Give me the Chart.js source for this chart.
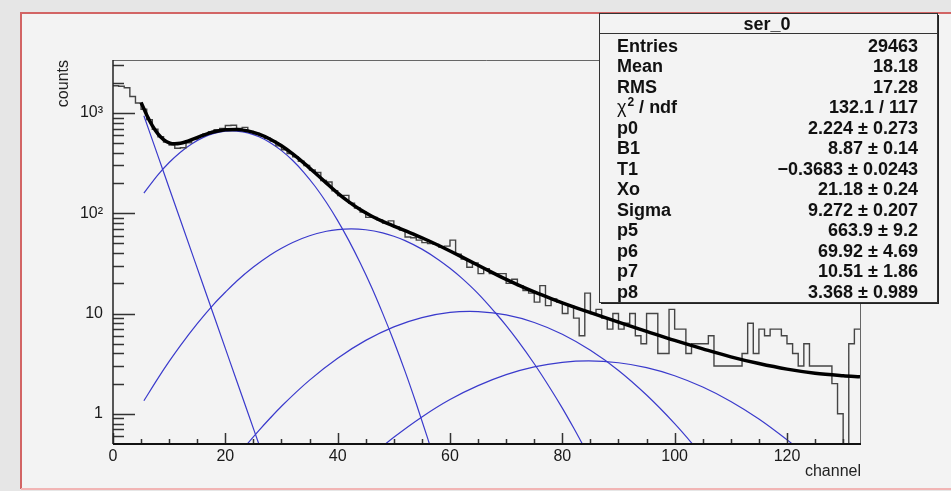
<!DOCTYPE html>
<html>
<head>
<meta charset="utf-8">
<script src="https://cdn.jsdelivr.net/npm/chart.js@4.4.1/dist/chart.umd.min.js"></script>
<style>
  html, body { margin: 0; padding: 0; background: #e6e6e6; }
  #wrap { width: 951px; height: 491px; }
</style>
</head>
<body>
<div id="wrap"><canvas id="fitChart" width="951" height="491"></canvas></div>
<script>
// histogram ser_0: one count per channel bin, bins 0..132
const counts = [
  1870, 1850, 1790, 1460, 1260, 1090, 860, 690, 580, 515,
  480, 445, 450, 505, 550, 585, 620, 650, 680, 700,
  750, 755, 700, 720, 655, 625, 595, 560, 525, 470,
  430, 395, 365, 330, 300, 270, 255, 212, 205, 168,
  150, 151, 126, 113, 103, 91, 91, 86, 80, 84,
  73, 68, 58, 57, 54, 51, 50, 49, 46, 47,
  54, 39, 35, 29, 32, 25, 28, 25, 25, 25,
  20, 22, 19, 17, 16, 13, 19, 12, 14, 13,
  10, 12, 9, 6, 16, 10, 11, 9, 7, 10,
  7, 8, 10, 6, 5, 10, 10, 4, 4, 11,
  7, 7, 4, 5, 5, 5, 6, 3, 3, 3,
  3, 3, 4, 8, 4, 7, 6, 7, 7, 6,
  5, 4, 3, 5, 3, 3, 3, 3, 2, 1,
  0, 5, 7
];
const xMin = 0;
const xMax = 133;
const yMin = 0.5;
const yMax = 3380;

// total fit (thick black)
const fitX = [5, 6, 7, 8, 9, 10, 11, 12, 13, 14, 15, 16, 18, 20, 22, 24, 26, 28, 30, 32,
  34, 36, 38, 40, 42, 44, 46, 48, 50, 52, 55, 58, 60, 62, 65, 68, 70, 72, 75, 78,
  80, 85, 90, 95, 100, 105, 110, 115, 120, 125, 130, 133];
const fitY = [1276, 958, 750, 620, 544, 505, 493, 499, 517, 542, 570, 599, 650, 682, 687, 664, 616, 548, 471, 391,
  317, 252, 200, 159, 130, 109, 94.1, 83.1, 74.5, 67.0, 57.0, 47.7, 42.1, 37.0, 30.3, 24.9, 21.9, 19.45, 16.45, 14.1,
  12.8, 10.2, 8.2, 6.65, 5.4, 4.45, 3.7, 3.17, 2.79, 2.54, 2.40, 2.34];

// fit components (thin blue)
const expX = [5.5, 8, 10, 12, 14, 16, 18, 20, 22, 24, 26, 27];
const expY = [938, 374, 179, 85.7, 41.0, 19.6, 9.40, 4.50, 2.15, 1.03, 0.494, 0.342];

const gaus1X = [5.5, 8, 10, 12, 14, 16, 18, 20, 21.2, 22, 24, 26, 28, 30, 32, 34, 36, 38, 40,
  42, 44, 46, 48, 50, 52, 54, 56, 57];
const gaus1Y = [159, 242, 321, 407, 492, 568, 626, 658, 664, 661, 634, 580, 506, 422, 336, 255, 185, 128, 84.6,
  53.4, 32.1, 18.5, 10.1, 5.30, 2.65, 1.26, 0.575, 0.381];

const gaus2X = [5.5, 8, 10, 12, 15, 18, 20, 22, 25, 28, 30, 32, 35, 38, 40, 42.4, 45, 48, 50,
  52, 55, 58, 60, 62, 65, 68, 70, 72, 75, 78, 80, 82, 84];
const gaus2Y = [1.35, 2.26, 3.33, 4.79, 7.93, 12.5, 16.3, 21.0, 29.1, 38.4, 44.8, 51.2, 59.7, 66.2, 68.8, 69.9, 68.5, 63.8, 59.0,
  53.4, 43.9, 34.3, 28.3, 22.8, 15.8, 10.3, 7.59, 5.44, 3.16, 1.74, 1.14, 0.725, 0.452];

const gaus3X = [20, 24, 26, 28, 30, 35, 40, 45, 50, 55, 60, 63.5, 65, 70, 75, 80, 85, 90, 95, 100, 103, 105];
const gaus3Y = [0.266, 0.507, 0.684, 0.908, 1.19, 2.17, 3.59, 5.40, 7.37, 9.12, 10.26, 10.51, 10.47, 9.69, 8.15, 6.22,
  4.30, 2.71, 1.54, 0.799, 0.514, 0.375];

const gaus4X = [45, 48, 50, 55, 60, 65, 70, 75, 80, 84.7, 90, 95, 100, 105, 110, 115, 120, 122];
const gaus4Y = [0.340, 0.474, 0.584, 0.932, 1.39, 1.91, 2.46, 2.94, 3.26, 3.37, 3.23, 2.89, 2.40, 1.85, 1.33,
  0.888, 0.551, 0.447];

// axis ticks
const xTicks = [0, 20, 40, 60, 80, 100, 120];
const yTicks = [1, 10, 100, 1000];
const yTickLabels = ["1", "10", "10²", "10³"];

// stats box
const statTitle = "ser_0";
const statLabels = ["Entries", "Mean", "RMS", "χ2 / ndf", "p0", "B1", "T1", "Xo", "Sigma", "p5", "p6", "p7", "p8"];
const statValues = ["29463", "18.18", "17.28", "132.1 / 117", "2.224 ± 0.273", "8.87 ± 0.14",
  "−0.3683 ± 0.0243", "21.18 ± 0.24", "9.272 ± 0.207", "663.9 ± 9.2", "69.92 ± 4.69",
  "10.51 ± 1.86", "3.368 ± 0.989"];

const FONT = "'Liberation Sans', Arial, Helvetica, sans-serif";

function xy(xs, ys) {
  return xs.map((x, i) => ({ x: x, y: ys[i] }));
}

// histogram as steps: each bin starts at its low edge; empty bins sit on the axis floor
const histPoints = counts.map((c, i) => ({ x: i, y: c > 0 ? c : yMin }));
histPoints.push({ x: xMax, y: counts[counts.length - 1] });

function curve(data, color, width) {
  return {
    data: data,
    borderColor: color,
    borderWidth: width,
    pointRadius: 0,
    fill: false,
    cubicInterpolationMode: "monotone"
  };
}

const rootFrame = {
  id: "rootFrame",
  beforeDraw(chart) {
    const ctx = chart.ctx;
    ctx.save();
    ctx.fillStyle = "#e6e6e6";
    ctx.fillRect(0, 0, chart.width, chart.height);
    ctx.fillStyle = "#f3f3f3";
    ctx.fillRect(20, 12, chart.width - 20, 477);
    // red pad border
    ctx.strokeStyle = "#d26464";
    ctx.lineWidth = 2;
    ctx.beginPath();
    ctx.moveTo(21, 489);
    ctx.lineTo(21, 13);
    ctx.lineTo(chart.width, 13);
    ctx.stroke();
    ctx.strokeStyle = "#f2b4b4";
    ctx.beginPath();
    ctx.moveTo(21, 489);
    ctx.lineTo(chart.width, 489);
    ctx.stroke();
    ctx.restore();
  },
  afterDraw(chart) {
    const ctx = chart.ctx;
    const a = chart.chartArea;
    const xs = chart.scales.x;
    const ys = chart.scales.y;
    ctx.save();

    // frame
    ctx.strokeStyle = "#666";
    ctx.lineWidth = 1;
    ctx.beginPath();
    ctx.moveTo(a.left, a.top + 0.5);
    ctx.lineTo(a.right + 0.5, a.top + 0.5);
    ctx.lineTo(a.right + 0.5, a.bottom);
    ctx.stroke();

    // y ticks (inside the frame)
    ctx.strokeStyle = "#333";
    ctx.lineWidth = 1.5;
    ctx.beginPath();
    for (let k = -1; k <= 3; k++) {
      for (let m = 1; m <= 9; m++) {
        const v = m * Math.pow(10, k);
        if (v <= yMin || v > yMax) continue;
        const py = Math.round(ys.getPixelForValue(v)) + 0.5;
        const len = m === 1 ? 22 : 11;
        ctx.moveTo(a.left, py);
        ctx.lineTo(a.left + len, py);
      }
    }
    // x ticks
    for (let v = xMin; v <= xMax; v += 5) {
      const px = Math.round(xs.getPixelForValue(v)) + 0.5;
      const len = v % 20 === 0 ? 11 : 5;
      ctx.moveTo(px, a.bottom);
      ctx.lineTo(px, a.bottom - len);
    }
    ctx.stroke();

    // axis lines
    ctx.strokeStyle = "#222";
    ctx.lineWidth = 1.5;
    ctx.beginPath();
    ctx.moveTo(a.left, a.top);
    ctx.lineTo(a.left, a.bottom);
    ctx.stroke();
    ctx.strokeStyle = "#111";
    ctx.lineWidth = 2;
    ctx.beginPath();
    ctx.moveTo(a.left, a.bottom);
    ctx.lineTo(a.right + 1, a.bottom);
    ctx.stroke();

    // axis titles
    ctx.fillStyle = "#222";
    ctx.font = "16px " + FONT;
    ctx.textAlign = "right";
    ctx.textBaseline = "alphabetic";
    ctx.fillText("channel", a.right + 1, 476);
    ctx.save();
    ctx.translate(68, a.top);
    ctx.rotate(-Math.PI / 2);
    ctx.textAlign = "right";
    ctx.fillText("counts", 0, 0);
    ctx.restore();

    drawStats(ctx);
    ctx.restore();
  }
};

function drawStats(ctx) {
  const x0 = 599, y0 = 13, x1 = 937, y1 = 302;
  ctx.fillStyle = "#f3f3f3";
  ctx.fillRect(x0, y0, x1 - x0, y1 - y0);
  ctx.fillStyle = "#222";
  ctx.fillRect(x1, y0 + 2, 2, y1 - y0);
  ctx.fillRect(x0 + 2, y1, x1 - x0, 2);
  ctx.strokeStyle = "#333";
  ctx.lineWidth = 1;
  ctx.strokeRect(x0 + 0.5, y0 + 0.5, x1 - x0, y1 - y0);
  ctx.beginPath();
  ctx.moveTo(x0, 33.5);
  ctx.lineTo(x1, 33.5);
  ctx.stroke();

  ctx.fillStyle = "#111";
  ctx.font = "bold 18px " + FONT;
  ctx.textBaseline = "alphabetic";
  ctx.textAlign = "center";
  ctx.fillText(statTitle, 767, 30);

  statLabels.forEach((label, i) => {
    const by = 51.5 + i * 20.5;
    ctx.textAlign = "left";
    if (label.startsWith("χ")) {
      ctx.font = "18px " + FONT;
      ctx.fillText("χ", 617, by);
      let w = ctx.measureText("χ").width;
      ctx.font = "bold 12px " + FONT;
      ctx.fillText("2", 617 + w + 1, by - 7);
      w += ctx.measureText("2").width + 1;
      ctx.font = "bold 18px " + FONT;
      ctx.fillText(label.slice(2), 617 + w, by);
    } else {
      ctx.font = "bold 18px " + FONT;
      ctx.fillText(label, 617, by);
    }
    ctx.font = "bold 18px " + FONT;
    ctx.textAlign = "right";
    ctx.fillText(statValues[i], 918, by);
  });
}

new Chart(document.getElementById("fitChart"), {
  type: "line",
  data: {
    datasets: [
      curve(xy(fitX, fitY), "#000", 3.5),
      {
        data: histPoints,
        borderColor: "#454545",
        borderWidth: 1.4,
        pointRadius: 0,
        fill: false,
        stepped: "before"
      },
      curve(xy(expX, expY), "#3a3acc", 1.2),
      curve(xy(gaus1X, gaus1Y), "#3a3acc", 1.2),
      curve(xy(gaus2X, gaus2Y), "#3a3acc", 1.2),
      curve(xy(gaus3X, gaus3Y), "#3a3acc", 1.2),
      curve(xy(gaus4X, gaus4Y), "#3a3acc", 1.2)
    ]
  },
  options: {
    responsive: false,
    animation: false,
    layout: { padding: { top: 60, right: 91, bottom: 0, left: 0 } },
    plugins: { legend: { display: false }, tooltip: { enabled: false } },
    scales: {
      x: {
        type: "linear",
        min: xMin,
        max: xMax,
        grid: { display: false, drawTicks: false },
        border: { display: false },
        afterBuildTicks: s => { s.ticks = xTicks.map(v => ({ value: v })); },
        afterFit: s => { s.height = 47; },
        ticks: { autoSkip: false, maxRotation: 0, padding: 3, color: "#1a1a1a", font: { family: FONT, size: 16 } }
      },
      y: {
        type: "logarithmic",
        min: yMin,
        max: yMax,
        grid: { display: false, drawTicks: false },
        border: { display: false },
        afterBuildTicks: s => { s.ticks = yTicks.map(v => ({ value: v })); },
        afterFit: s => { s.width = 113; },
        ticks: {
          autoSkip: false,
          padding: 10,
          color: "#1a1a1a",
          font: { family: FONT, size: 16 },
          callback: (v, i) => yTickLabels[i]
        }
      }
    }
  },
  plugins: [rootFrame]
});
</script>
</body>
</html>
